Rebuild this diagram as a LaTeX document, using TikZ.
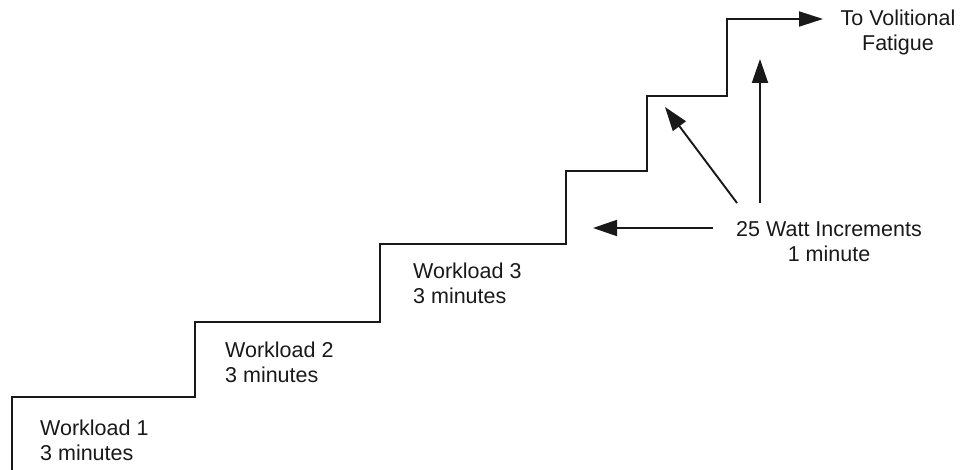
\documentclass[tikz,border=0pt]{standalone}
\usepackage{fontspec}
\setmainfont{Liberation Sans}
\usetikzlibrary{arrows.meta}
\tikzset{
  stair/.style={line width=1.9pt, line join=miter, draw=black!90},
  pointer/.style={line width=1.9pt, draw=black!90, -{Triangle[length=24pt,width=16pt]}},
  lbl/.style={inner sep=0pt, text=black!90, font=\fontsize{21.5}{25}\selectfont}
}
\begin{document}
\begin{tikzpicture}[x=1pt,y=-1pt]
\useasboundingbox (0,0) rectangle (962,470);
% staircase
\coordinate (s0) at (12,471);
\coordinate (top) at (823,19);
\draw[stair, -{Triangle[length=24pt,width=15pt]}] (s0) |- (195,397) |- (380,322) |- (566,244) |- (647,171) |- (727,96) |- (top);
% labels
\node[lbl, anchor=north west, align=left] (w1) at (40,420) {Workload 1\\3 minutes};
\node[lbl, anchor=north west, align=left] (w2) at (225,342) {Workload 2\\3 minutes};
\node[lbl, anchor=north west, align=left] (w3) at (413,263) {Workload 3\\3 minutes};
\node[lbl, anchor=north, align=center] (fat) at (898,10) {To Volitional\\Fatigue};
\node[lbl, anchor=north, align=center] (inc) at (829,221) {25 Watt Increments\\1 minute};
% increment arrows
\coordinate (a1s) at (713,228);
\coordinate (a1e) at (593,228);
\coordinate (a2s) at (737,203);
\coordinate (a2e) at (665,107);
\coordinate (a3s) at (760,203);
\coordinate (a3e) at (760,59);
\draw[pointer] (a1s) -- (a1e);
\draw[pointer] (a2s) -- (a2e);
\draw[pointer] (a3s) -- (a3e);
\end{tikzpicture}
\end{document}
